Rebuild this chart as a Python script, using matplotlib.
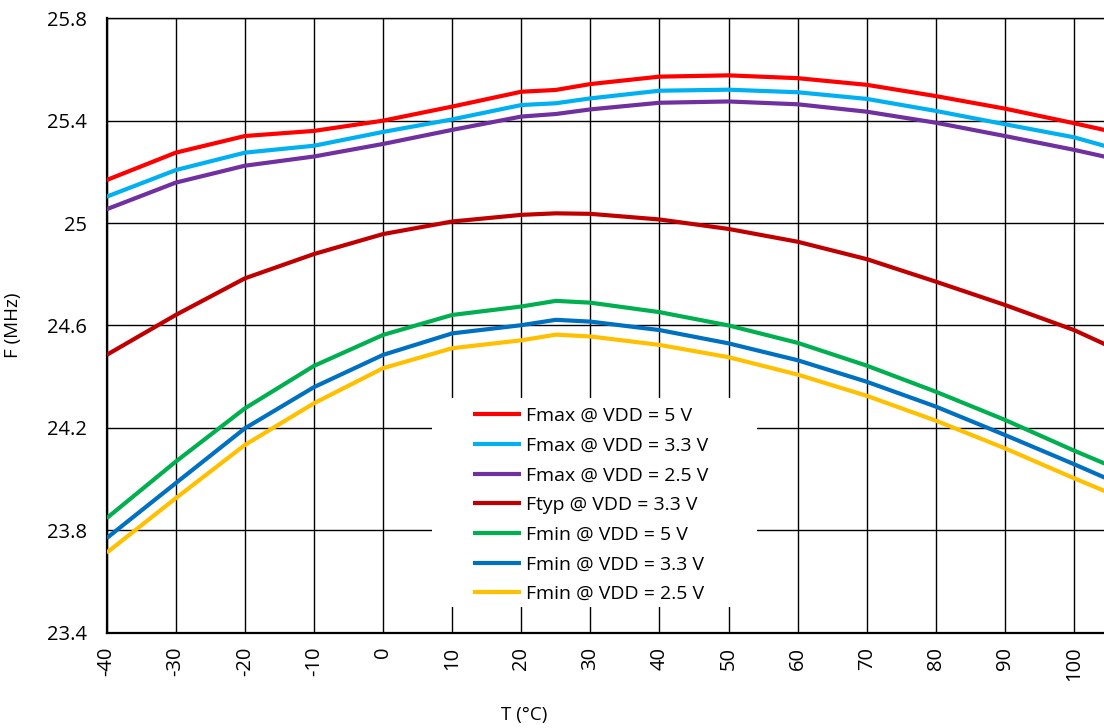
"""
Oscillator frequency vs temperature for several supply voltages
"""
import matplotlib
matplotlib.use('Agg')
import matplotlib.pyplot as plt
from matplotlib.patches import Rectangle

# Temperature points (°C)
temps = [-40, -30, -20, -10, 0, 10, 20, 25, 30, 40, 50, 60, 70, 80, 90, 100, 105]

# Frequencies (MHz)
fmax_5v = [25.168, 25.275, 25.340, 25.360, 25.400, 25.455, 25.513, 25.520, 25.543,
           25.572, 25.577, 25.566, 25.540, 25.496, 25.447, 25.390, 25.360]
fmax_3v3 = [25.103, 25.207, 25.275, 25.302, 25.356, 25.405, 25.461, 25.468, 25.487,
            25.517, 25.521, 25.511, 25.485, 25.438, 25.386, 25.335, 25.297]
fmax_2v5 = [25.054, 25.158, 25.224, 25.260, 25.309, 25.364, 25.416, 25.426, 25.444,
            25.470, 25.475, 25.464, 25.435, 25.392, 25.340, 25.286, 25.256]
ftyp_3v3 = [24.485, 24.641, 24.784, 24.879, 24.957, 25.006, 25.032, 25.038, 25.036,
            25.014, 24.977, 24.927, 24.859, 24.771, 24.680, 24.582, 24.520]
fmin_5v = [23.847, 24.068, 24.276, 24.442, 24.563, 24.641, 24.674, 24.696, 24.689,
           24.652, 24.600, 24.532, 24.443, 24.341, 24.231, 24.111, 24.054]
fmin_3v3 = [23.769, 23.984, 24.198, 24.359, 24.485, 24.569, 24.601, 24.622, 24.615,
            24.582, 24.530, 24.464, 24.380, 24.283, 24.172, 24.058, 23.999]
fmin_2v5 = [23.712, 23.925, 24.133, 24.296, 24.433, 24.511, 24.542, 24.564, 24.557,
            24.524, 24.476, 24.408, 24.325, 24.228, 24.120, 24.003, 23.947]

series = [
    ('Fmax @ VDD = 5 V', fmax_5v, '#FF0000'),
    ('Fmax @ VDD = 3.3 V', fmax_3v3, '#00B0F0'),
    ('Fmax @ VDD = 2.5 V', fmax_2v5, '#7030A0'),
    ('Ftyp @ VDD = 3.3 V', ftyp_3v3, '#C00000'),
    ('Fmin @ VDD = 5 V', fmin_5v, '#00B050'),
    ('Fmin @ VDD = 3.3 V', fmin_3v3, '#0070C0'),
    ('Fmin @ VDD = 2.5 V', fmin_2v5, '#FFC000'),
]

x_ticks = list(range(-40, 101, 10))
y_ticks = [23.4, 23.8, 24.2, 24.6, 25.0, 25.4, 25.8]
y_tick_labels = ['23.4', '23.8', '24.2', '24.6', '25', '25.4', '25.8']

plt.rcParams['font.family'] = ['Open Sans', 'DejaVu Sans']

fig = plt.figure(figsize=(11.04, 7.28), dpi=100)
ax = fig.add_axes([0.0966, 0.131, 0.9034, 0.8439])

for label, values, color in series:
    ax.plot(temps, values, color=color, linewidth=3.0, label=label,
            solid_capstyle='butt', zorder=3)

ax.set_xlim(-40, 104.33)
ax.set_ylim(23.4, 25.8)
ax.set_xticks(x_ticks)
ax.set_xticklabels([str(t) for t in x_ticks], rotation=90, fontsize=14.5)
ax.set_yticks(y_ticks)
ax.set_yticklabels(y_tick_labels, fontsize=14.5)
ax.tick_params(axis='x', length=0, pad=10)
ax.tick_params(axis='y', length=0, pad=14.5)

ax.grid(True, color='black', linewidth=1.0)
ax.set_axisbelow(True)
for side in ['left', 'bottom']:
    ax.spines[side].set_linewidth(1.6)
ax.spines['top'].set_linewidth(1.0)
ax.spines['right'].set_visible(False)

ax.set_xlabel('T (°C)', fontsize=13.5)
ax.xaxis.label.set_va('center')
ax.xaxis.set_label_coords(0.419, -0.134)
ax.set_ylabel('F (MHz)', fontsize=13.5)
ax.yaxis.set_label_coords(-0.085, 0.5)

# white area behind the legend hides the gridlines there
ax.add_patch(Rectangle((0.326, 0.042), 0.326, 0.340, transform=ax.transAxes,
                       facecolor='white', edgecolor='none', zorder=1))

leg = ax.legend(loc='upper left', bbox_to_anchor=(0.3673, 0.367), fontsize=14,
                frameon=False, handlelength=2.45, handletextpad=0.3,
                labelspacing=0.6, borderpad=0, borderaxespad=0)

fig.savefig('out.png', dpi=100)
plt.close(fig)
